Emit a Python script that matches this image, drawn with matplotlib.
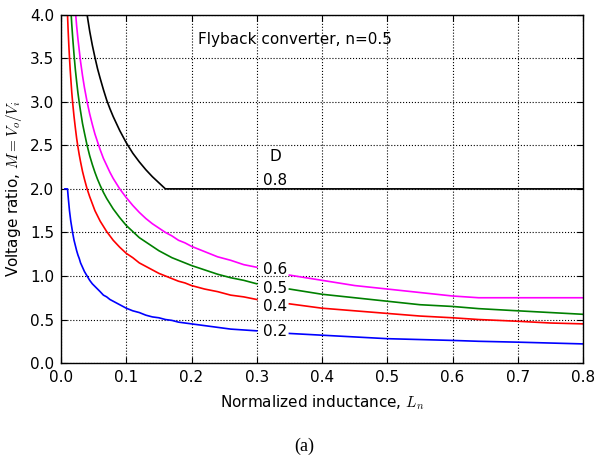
import numpy as np
import matplotlib
matplotlib.use("Agg")
import matplotlib.pyplot as plt

# --- DATA ---
# normalized inductance samples; 0.325 is where the inline labels sit
LN = [0.006,
      0.01, 0.011, 0.012, 0.013, 0.014, 0.015, 0.0165, 0.018, 0.02, 0.022,
      0.024, 0.026, 0.028, 0.03, 0.033, 0.036, 0.04, 0.044, 0.048, 0.052,
      0.056, 0.06, 0.065, 0.07, 0.075, 0.08, 0.09, 0.1, 0.11, 0.12,
      0.13, 0.14, 0.15, 0.16, 0.17, 0.18, 0.19, 0.2, 0.22, 0.24,
      0.26, 0.28, 0.3,
      0.325,
      0.35, 0.4, 0.45, 0.5, 0.55, 0.6, 0.64, 0.7, 0.75, 0.8]

nan = np.nan
M_d02 = [2.00,
         2.00, 1.91, 1.83, 1.75, 1.69, 1.63, 1.56, 1.49, 1.41, 1.35,
         1.29, 1.24, 1.20, 1.15, 1.10, 1.05, 1.00, 0.95, 0.91, 0.88,
         0.85, 0.82, 0.78, 0.76, 0.73, 0.71, 0.67, 0.63, 0.60, 0.58,
         0.55, 0.53, 0.52, 0.50, 0.49, 0.47, 0.46, 0.45, 0.43, 0.41,
         0.39, 0.38, 0.37,
         nan,
         0.34, 0.32, 0.30, 0.28, 0.27, 0.26, 0.25, 0.24, 0.23, 0.22]
M_d04 = [4.00,
         4.00, 3.81, 3.65, 3.51, 3.38, 3.27, 3.11, 2.98, 2.83, 2.70,
         2.58, 2.48, 2.39, 2.31, 2.20, 2.11, 2.00, 1.91, 1.83, 1.75,
         1.69, 1.63, 1.57, 1.51, 1.46, 1.41, 1.33, 1.26, 1.21, 1.15,
         1.11, 1.07, 1.03, 1.00, 0.97, 0.94, 0.92, 0.89, 0.85, 0.82,
         0.78, 0.76, 0.73,
         nan,
         0.68, 0.63, 0.60, 0.57, 0.54, 0.52, 0.50, 0.48, 0.46, 0.45]
M_d05 = [5.00,
         5.00, 4.77, 4.56, 4.39, 4.23, 4.08, 3.89, 3.73, 3.54, 3.37,
         3.23, 3.10, 2.99, 2.89, 2.75, 2.64, 2.50, 2.38, 2.28, 2.19,
         2.11, 2.04, 1.96, 1.89, 1.83, 1.77, 1.67, 1.58, 1.51, 1.44,
         1.39, 1.34, 1.29, 1.25, 1.21, 1.18, 1.15, 1.12, 1.07, 1.02,
         0.98, 0.95, 0.91,
         nan,
         0.85, 0.79, 0.75, 0.71, 0.67, 0.65, 0.625, 0.60, 0.58, 0.56]
M_d06 = [6.00,
         6.00, 5.72, 5.48, 5.26, 5.07, 4.90, 4.67, 4.47, 4.24, 4.05,
         3.87, 3.72, 3.59, 3.46, 3.30, 3.16, 3.00, 2.86, 2.74, 2.63,
         2.54, 2.45, 2.35, 2.27, 2.19, 2.12, 2.00, 1.90, 1.81, 1.73,
         1.66, 1.60, 1.55, 1.50, 1.46, 1.41, 1.38, 1.34, 1.28, 1.22,
         1.18, 1.13, 1.10,
         nan,
         1.01, 0.95, 0.89, 0.85, 0.81, 0.77, 0.75, 0.75, 0.75, 0.75]
M_d08 = [8.00,
         8.00, 7.63, 7.30, 7.02, 6.76, 6.53, 6.23, 5.96, 5.66, 5.39,
         5.16, 4.96, 4.78, 4.62, 4.40, 4.22, 4.00, 3.81, 3.65, 3.51,
         3.38, 3.27, 3.14, 3.02, 2.92, 2.83, 2.67, 2.53, 2.41, 2.31,
         2.22, 2.14, 2.07, 2.00, 2.00, 2.00, 2.00, 2.00, 2.00, 2.00,
         2.00, 2.00, 2.00,
         2.00,
         2.00, 2.00, 2.00, 2.00, 2.00, 2.00, 2.00, 2.00, 2.00, 2.00]

DUTY = ["0.2", "0.4", "0.5", "0.6", "0.8"]
COLORS = ["#0000ff", "#ff0000", "#008000", "#ff00ff", "#000000"]
LABEL_Y = [0.36, 0.65, 0.86, 1.07, 2.10]

plt.rcParams["mathtext.fontset"] = "cm"
plt.rcParams["font.family"] = "DejaVu Sans"

fig = plt.figure(figsize=(5.95, 4.59), dpi=100)
ax = fig.add_axes([0.1025, 0.209, 0.8775, 0.759])

for m, c in zip([M_d02, M_d04, M_d05, M_d06, M_d08], COLORS):
    ax.plot(LN, m, color=c, lw=1.2)

# inline labels (contour-style)
for d, y in zip(DUTY, LABEL_Y):
    ax.text(0.3285, y, d, ha="center", va="center", fontsize=11)
ax.text(0.3285, 2.37, "D", ha="center", va="center", fontsize=11)
ax.text(0.21, 3.72, "Flyback converter, n=0.5", ha="left", va="center",
        fontsize=11)

ax.set_xlim(0, 0.8)
ax.set_ylim(0, 4)
ax.set_xticks(np.arange(0, 0.81, 0.1))
ax.set_yticks(np.arange(0, 4.01, 0.5))
ax.xaxis.set_major_formatter(plt.FormatStrFormatter("%.1f"))
ax.yaxis.set_major_formatter(plt.FormatStrFormatter("%.1f"))
ax.tick_params(direction="in", top=True, right=True, labelsize=11,
               length=4, pad=5)
ax.grid(True, color="k", linestyle=":", linewidth=0.8)
for s in ax.spines.values():
    s.set_linewidth(1.0)

ax.set_xlabel("Normalized inductance, $L_n$", fontsize=11, labelpad=6)
ax.set_ylabel("Voltage ratio, $M = V_o/V_i$", fontsize=11, labelpad=4)

fig.text(0.512, 0.008, "(a)", ha="center", va="bottom",
         family="Liberation Serif", fontsize=13)

fig.savefig("out.png", dpi=100)
